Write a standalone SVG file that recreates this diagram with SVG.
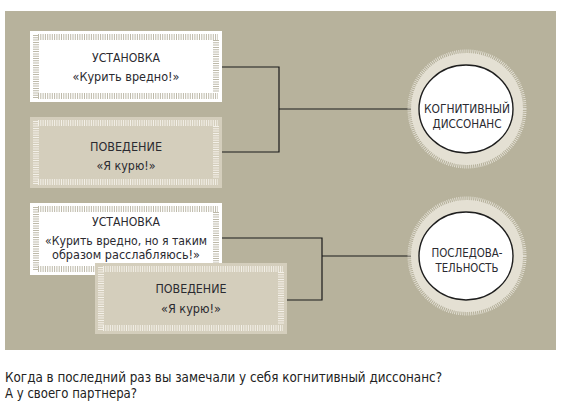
<svg xmlns="http://www.w3.org/2000/svg" width="569" height="412" viewBox="0 0 569 412">
<defs>
<style>
text{font-family:"DejaVu Sans Condensed","Liberation Sans Narrow","Liberation Sans",sans-serif;fill:#2a2a30;text-anchor:middle}
.t{font-size:13px}
.s{font-size:11.5px}
.c{font-size:13px}
.q{font-size:14.5px;text-anchor:start;fill:#222}
.wb{fill:#ffffff}
.bb{fill:#d4cebc}
.wt{stroke:#bdb9a9;stroke-width:6;stroke-dasharray:1 1.3;fill:none}
.bt{stroke:#f3f0e8;stroke-width:6;stroke-dasharray:1 1.3;fill:none}
.halo{fill:#e4e0d3}
.fuzz{fill:none;stroke:#e9e6dc;stroke-width:4;stroke-dasharray:0.8 1.2}
.core{fill:#ffffff;stroke:#1e1e1e;stroke-width:1.4}
.ln{fill:none;stroke:#1a1a1a;stroke-width:1.2}
</style>
</defs>
<rect x="0" y="0" width="569" height="412" fill="#ffffff"/>
<rect x="5" y="11" width="551" height="339" fill="#b7b29c"/>

<g id="connectors">
<polyline class="ln" points="222,67 279,67 279,152 222,152"/>
<line class="ln" x1="279" y1="109" x2="420" y2="109"/>
<polyline class="ln" points="222,238 322,238 322,300 287,300"/>
<line class="ln" x1="322" y1="256" x2="420" y2="256"/>
</g>

<g id="box1">
<rect class="wb" x="30" y="31" width="192" height="71"/>
<line class="wt" x1="38" y1="37" x2="218" y2="37"/>
<line class="wt" x1="38" y1="96" x2="218" y2="96"/>
<line class="wt" x1="36" y1="35" x2="36" y2="98"/>
<line class="wt" x1="216" y1="40" x2="216" y2="93"/>
<text class="t" x="126" y="62" textLength="68" lengthAdjust="spacingAndGlyphs">УСТАНОВКА</text>
<text class="t" x="126" y="81" textLength="107" lengthAdjust="spacingAndGlyphs">«Курить вредно!»</text>
</g>

<g id="box2">
<rect class="bb" x="30" y="117" width="192" height="71"/>
<line class="bt" x1="38" y1="123" x2="218" y2="123"/>
<line class="bt" x1="38" y1="182" x2="218" y2="182"/>
<line class="bt" x1="36" y1="121" x2="36" y2="184"/>
<line class="bt" x1="216" y1="126" x2="216" y2="179"/>
<text class="t" x="126" y="151" textLength="72" lengthAdjust="spacingAndGlyphs">ПОВЕДЕНИЕ</text>
<text class="t" x="126" y="170" textLength="59" lengthAdjust="spacingAndGlyphs">«Я курю!»</text>
</g>

<g id="circle1">
<circle class="halo" cx="467" cy="109" r="56"/>
<circle class="fuzz" cx="467" cy="109" r="57.5"/>
<ellipse class="core" cx="466" cy="109" rx="47" ry="44"/>
<text class="c" x="467" y="113" textLength="86" lengthAdjust="spacingAndGlyphs">КОГНИТИВНЫЙ</text>
<text class="c" x="467" y="128" textLength="69" lengthAdjust="spacingAndGlyphs">ДИССОНАНС</text>
</g>

<g id="box3">
<rect class="wb" x="30" y="203" width="192" height="72"/>
<line class="wt" x1="38" y1="209" x2="218" y2="209"/>
<line class="wt" x1="38" y1="269" x2="218" y2="269"/>
<line class="wt" x1="36" y1="207" x2="36" y2="271"/>
<line class="wt" x1="216" y1="212" x2="216" y2="266"/>
<text class="t" x="126" y="226" textLength="68" lengthAdjust="spacingAndGlyphs">УСТАНОВКА</text>
<text class="s" x="126" y="245" textLength="162" lengthAdjust="spacingAndGlyphs">«Курить вредно, но я таким</text>
<text class="s" x="126" y="258.5" textLength="148" lengthAdjust="spacingAndGlyphs">образом расслабляюсь!»</text>
</g>

<g id="box4">
<rect class="bb" x="95" y="263" width="192" height="71"/>
<line class="bt" x1="103" y1="269" x2="283" y2="269"/>
<line class="bt" x1="103" y1="328" x2="283" y2="328"/>
<line class="bt" x1="101" y1="267" x2="101" y2="330"/>
<line class="bt" x1="281" y1="272" x2="281" y2="325"/>
<text class="t" x="191" y="293" textLength="71" lengthAdjust="spacingAndGlyphs">ПОВЕДЕНИЕ</text>
<text class="t" x="191" y="313" textLength="60" lengthAdjust="spacingAndGlyphs">«Я курю!»</text>
</g>

<g id="circle2">
<circle class="halo" cx="467" cy="256" r="56"/>
<circle class="fuzz" cx="467" cy="256" r="57.5"/>
<ellipse class="core" cx="466" cy="256" rx="47" ry="44"/>
<text class="c" x="467" y="257" textLength="71" lengthAdjust="spacingAndGlyphs">ПОСЛЕДОВА-</text>
<text class="c" x="467" y="272" textLength="63" lengthAdjust="spacingAndGlyphs">ТЕЛЬНОСТЬ</text>
</g>

<g id="caption">
<text class="q" x="5" y="382" textLength="437" lengthAdjust="spacingAndGlyphs">Когда в последний раз вы замечали у себя когнитивный диссонанс?</text>
<text class="q" x="5" y="398" textLength="132" lengthAdjust="spacingAndGlyphs">А у своего партнера?</text>
</g>
</svg>
